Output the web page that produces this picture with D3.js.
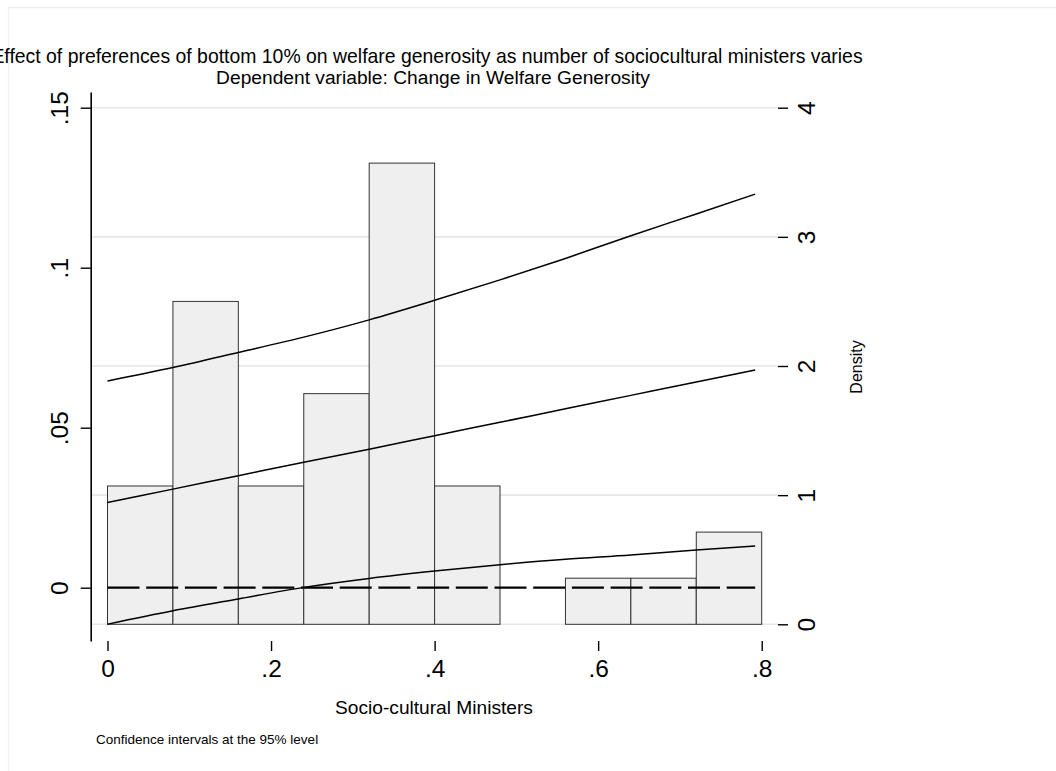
<!DOCTYPE html>
<html><head><meta charset="utf-8">
<script src="https://cdn.jsdelivr.net/npm/d3@7"></script>
<style>
body{margin:0;background:#fff}
svg{display:block}
text{font-family:"Liberation Sans",Arial,Helvetica,sans-serif;fill:#000}
</style>
</head><body>
<svg id="chart" width="1056" height="771"></svg>
<script>
// ---- data ----
const binStarts = [0, 0.08, 0.16, 0.24, 0.32, 0.40, 0.48, 0.56, 0.64, 0.72];
const binWidth = 0.08;
const density = [1.071, 2.5, 1.071, 1.786, 3.571, 1.071, 0, 0.357, 0.357, 0.714];
const fitX   = [0, 0.08, 0.16, 0.24, 0.32, 0.40, 0.48, 0.56, 0.64, 0.72, 0.792];
const effect = [0.0266, 0.0308, 0.0350, 0.0392, 0.0433, 0.0475, 0.0517, 0.0559, 0.0601, 0.0643, 0.0680];
const upper  = [0.0646, 0.0688, 0.0735, 0.0783, 0.0837, 0.0898, 0.0962, 0.1029, 0.1100, 0.1168, 0.1230];
const lower  = [-0.0114, -0.0072, -0.0035, 0.0001, 0.0029, 0.0052, 0.0072, 0.0089, 0.0102, 0.0118, 0.0130];
const zeroLine = [0, 0.792];
const xTicks = [0, 0.2, 0.4, 0.6, 0.8];
const xTickLabels = ["0", ".2", ".4", ".6", ".8"];
const yTicks = [0, 0.05, 0.1, 0.15];
const yTickLabels = ["0", ".05", ".1", ".15"];
const densTicks = [0, 1, 2, 3, 4];
const densTickLabels = ["0", "1", "2", "3", "4"];
const titleText = "Effect of preferences of bottom 10% on welfare generosity as number of sociocultural ministers varies";
const subtitleText = "Dependent variable: Change in Welfare Generosity";
const xTitle = "Socio-cultural Ministers";
const yRightTitle = "Density";
const noteText = "Confidence intervals at the 95% level";

// ---- layout ----
const svg = d3.select("#chart");
const plot = {left: 90.7, right: 778, top: 92, bottom: 641};

const x = d3.scaleLinear().domain([0, 0.8]).range([107.5, 761.7]);
const yL = d3.scaleLinear().domain([0, 0.15]).range([587.7, 107.7]);
const yLfull = d3.scaleLinear().domain([yL.invert(plot.bottom), yL.invert(plot.top)]).range([plot.bottom, plot.top]);
const yR = d3.scaleLinear().domain([0, 4]).range([624.3, 107.7]);

// outer faint frame
svg.append("line").attr("x1", 8).attr("x2", 1056).attr("y1", 7.5).attr("y2", 7.5)
  .attr("stroke", "#eeeeee").attr("stroke-width", 1.5);
svg.append("line").attr("x1", 8.5).attr("x2", 8.5).attr("y1", 7).attr("y2", 771)
  .attr("stroke", "#f2f2f2").attr("stroke-width", 1.5);

// gridlines (right axis)
svg.append("g").selectAll("line").data(densTicks).join("line")
  .attr("x1", plot.left).attr("x2", plot.right)
  .attr("y1", d => yR(d)).attr("y2", d => yR(d))
  .attr("stroke", "#e6e6e6").attr("stroke-width", 1.6);

// histogram bars
const bars = binStarts.map((s, i) => ({s, d: density[i]})).filter(b => b.d > 0);
svg.append("g").selectAll("rect").data(bars).join("rect")
  .attr("x", b => x(b.s)).attr("width", b => x(b.s + binWidth) - x(b.s))
  .attr("y", b => yR(b.d)).attr("height", b => yR(0) - yR(b.d))
  .attr("fill", "#efefef").attr("stroke", "#333").attr("stroke-width", 1);

// dashed zero line
svg.append("line")
  .attr("x1", x(zeroLine[0])).attr("x2", x(zeroLine[1]))
  .attr("y1", yL(0)).attr("y2", yL(0))
  .attr("stroke", "#000").attr("stroke-width", 2.3).attr("stroke-dasharray", "32,6.7");

// curves
const line = d3.line().curve(d3.curveMonotoneX);
[upper, effect, lower].forEach(arr => {
  svg.append("path")
    .attr("d", line(fitX.map((v, i) => [x(v), yL(arr[i])])))
    .attr("fill", "none").attr("stroke", "#000").attr("stroke-width", 1.5);
});

const tickFont = 24.5;
// left axis
const gL = svg.append("g").attr("transform", `translate(${plot.left},0)`)
  .call(d3.axisLeft(yLfull).tickValues(yTicks).tickFormat((d, i) => yTickLabels[i]).tickSize(10).tickSizeOuter(0));
gL.select(".domain").attr("stroke", "#000").attr("stroke-width", 1.6);
gL.selectAll(".tick line").attr("stroke", "#000").attr("stroke-width", 1.4);
gL.selectAll(".tick text").attr("x", null).attr("dy", null)
  .attr("transform", "translate(-22.7,0) rotate(-90)")
  .attr("text-anchor", "middle").attr("font-size", tickFont)
  .style("font-family", '"Liberation Sans",Arial,sans-serif').attr("fill", "#000");

// right axis (no line)
const gR = svg.append("g").attr("transform", `translate(${plot.right},0)`)
  .call(d3.axisRight(yR).tickValues(densTicks).tickFormat((d, i) => densTickLabels[i]).tickSize(10).tickSizeOuter(0));
gR.select(".domain").remove();
gR.selectAll(".tick line").attr("stroke", "#000").attr("stroke-width", 1.4);
gR.selectAll(".tick text").attr("x", null).attr("dy", null)
  .attr("transform", "translate(37,0) rotate(-90)")
  .attr("text-anchor", "middle").attr("font-size", tickFont)
  .style("font-family", '"Liberation Sans",Arial,sans-serif').attr("fill", "#000");

// bottom axis (no line)
const gB = svg.append("g").attr("transform", `translate(0,${plot.bottom})`)
  .call(d3.axisBottom(x).tickValues(xTicks).tickFormat((d, i) => xTickLabels[i]).tickSize(10).tickSizeOuter(0));
gB.select(".domain").remove();
gB.selectAll(".tick line").attr("stroke", "#000").attr("stroke-width", 1.4);
gB.selectAll(".tick text").attr("dy", null).attr("y", 36)
  .attr("font-size", tickFont)
  .style("font-family", '"Liberation Sans",Arial,sans-serif').attr("fill", "#000");

// texts fitted to measured widths
function fitText(sel, target) {
  const w = sel.node().getComputedTextLength();
  const fs = +sel.attr("font-size");
  sel.attr("font-size", fs * target / w);
  return sel;
}
fitText(svg.append("text").attr("x", 427).attr("y", 63).attr("text-anchor", "middle")
  .attr("font-size", 15).text(titleText), 872);
fitText(svg.append("text").attr("x", 433).attr("y", 84).attr("text-anchor", "middle")
  .attr("font-size", 15).text(subtitleText), 434);
fitText(svg.append("text").attr("x", 434).attr("y", 714).attr("text-anchor", "middle")
  .attr("font-size", 19).text(xTitle), 198);
svg.append("text").attr("x", 96).attr("y", 744).attr("font-size", 13.5).text(noteText);
svg.append("text").attr("transform", "translate(862,367) rotate(-90)").attr("text-anchor", "middle")
  .attr("font-size", 16).text(yRightTitle);
</script>
</body></html>
